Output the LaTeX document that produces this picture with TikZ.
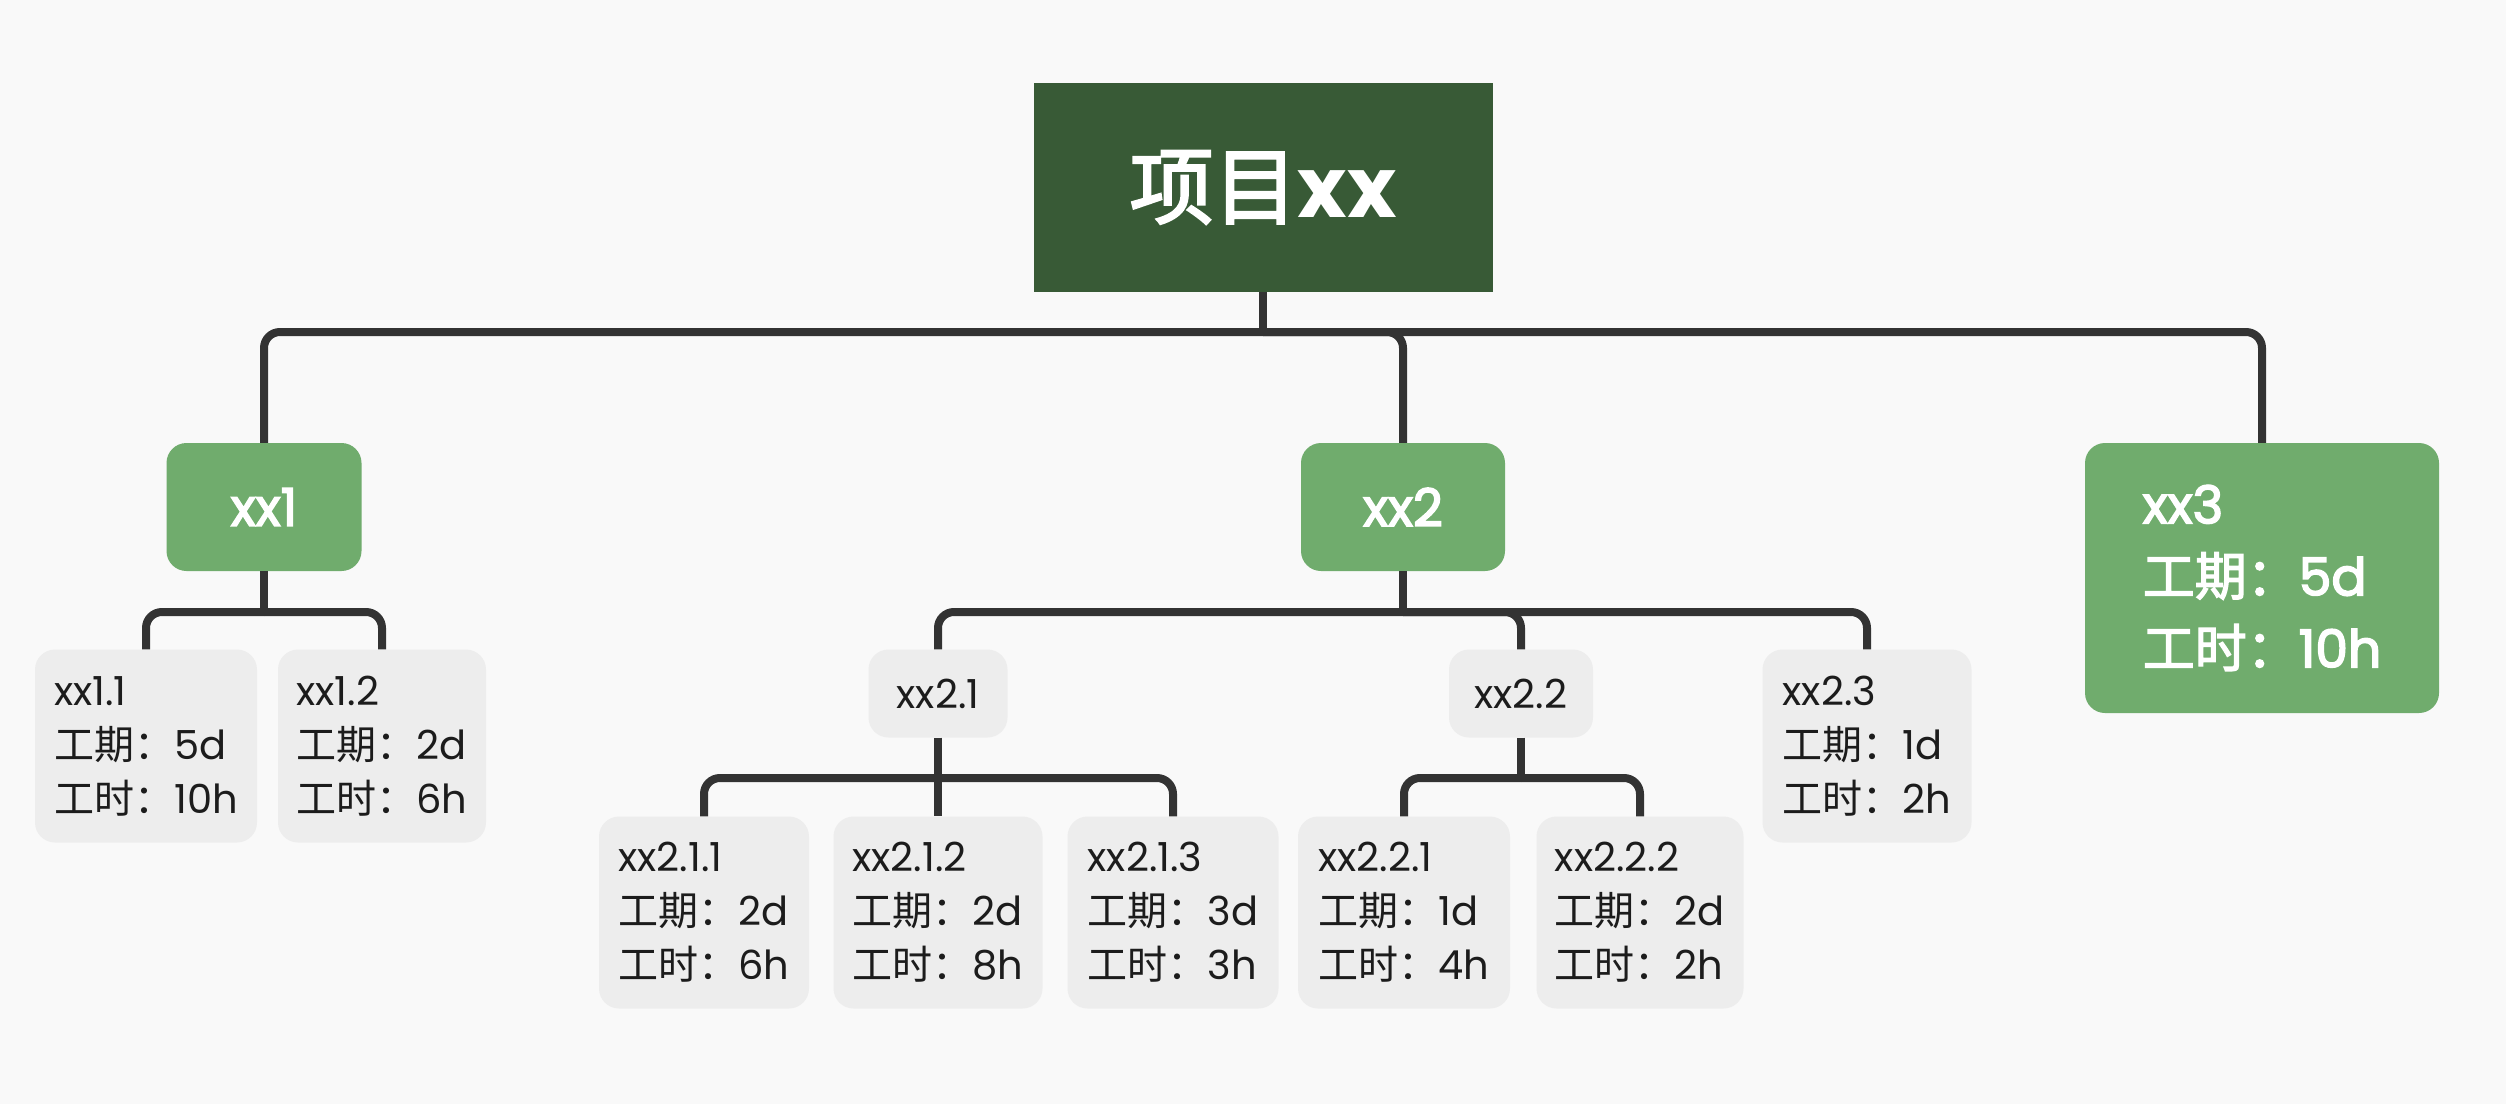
\documentclass[tikz,border=0pt]{standalone}
\usepackage{fontspec}
\setmainfont{Poppins}
\newfontfamily\cjk{Noto Sans CJK SC}
\newfontfamily\pmed{Poppins}[FakeBold=3]
\newfontfamily\cjkm{Noto Sans CJK SC}[FakeBold=2.5]
\newfontfamily\cjkr{Noto Sans CJK SC}[FakeBold=2.5]
\definecolor{bgc}{HTML}{F9F9F9}
\definecolor{rootc}{HTML}{385A36}
\definecolor{greenc}{HTML}{70AC6D}
\definecolor{grayc}{HTML}{EDEDED}
\definecolor{linec}{HTML}{333333}
\definecolor{textc}{HTML}{1C1C1C}
\begin{document}
\begin{tikzpicture}[x=1pt,y=-1pt,
  sz/.style 2 args={minimum width=#1pt, minimum height=#2pt},
  rootbox/.style={fill=rootc, inner sep=0pt, text=white, font=\fontsize{84}{100}\selectfont},
  greenbox/.style={fill=greenc, rounded corners=20pt, inner sep=0pt, text=white, align=left, font=\fontsize{52}{72}\selectfont\pmed},
  graybox/.style={fill=grayc, rounded corners=20pt, inner sep=0pt, text=textc, align=left, font=\fontsize{40}{54}\selectfont},
  conn/.style={draw=linec, line width=8pt, rounded corners=16pt}]
\fill[bgc] (0,0) rectangle (2506,1104);
\useasboundingbox (0,0) rectangle (2506,1104);
% nodes
\node[rootbox, sz={459}{209}] (root) at (1263,187.5) {{\cjkr 项目}{\bfseries xx}};
\node[greenbox, sz={195}{128}] (n1) at (264,507) {xx1};
\node[greenbox, sz={204}{128}] (n2) at (1403,507) {xx2};
\node[greenbox, sz={354}{270}] (n3) at (2262,578) {xx3\\{\cjkm 工期：}5d\\{\cjkm 工时：}10h};
\node[graybox, sz={222}{193}] (n11) at (146,746) {xx1.1\\{\cjk 工期：}5d\\{\cjk 工时：}10h};
\node[graybox, sz={208}{193}] (n12) at (382,746) {xx1.2\\{\cjk 工期：}2d\\{\cjk 工时：}6h};
\node[graybox, sz={139}{88}] (n21) at (938,693.5) {xx2.1};
\node[graybox, sz={144}{88}] (n22) at (1521,693.5) {xx2.2};
\node[graybox, sz={209}{193}] (n23) at (1867,746) {xx2.3\\{\cjk 工期：}1d\\{\cjk 工时：}2h};
\node[graybox, sz={210}{192}] (n211) at (704,912.5) {xx2.1.1\\{\cjk 工期：}2d\\{\cjk 工时：}6h};
\node[graybox, sz={209}{192}] (n212) at (938,912.5) {xx2.1.2\\{\cjk 工期：}2d\\{\cjk 工时：}8h};
\node[graybox, sz={211}{192}] (n213) at (1173,912.5) {xx2.1.3\\{\cjk 工期：}3d\\{\cjk 工时：}3h};
\node[graybox, sz={212}{192}] (n221) at (1404,912.5) {xx2.2.1\\{\cjk 工期：}1d\\{\cjk 工时：}4h};
\node[graybox, sz={207}{192}] (n222) at (1640,912.5) {xx2.2.2\\{\cjk 工期：}2d\\{\cjk 工时：}2h};
% bus points
\coordinate (b0) at (1263,332);
\coordinate (b1) at (264,612);
\coordinate (b2) at (1403,612);
\coordinate (b21) at (938,778);
\coordinate (b22) at (1521,778);
% connectors
\draw[conn] (root.south) -- (b0);
\draw[conn] (b0) -| (n1.north);
\draw[conn] (b0) -| (n2.north);
\draw[conn] (b0) -| (n3.north);
\draw[conn] (n1.south) -- (b1);
\draw[conn] (b1) -| (n11.north);
\draw[conn] (b1) -| (n12.north);
\draw[conn] (n2.south) -- (b2);
\draw[conn] (b2) -| (n21.north);
\draw[conn] (b2) -| (n22.north);
\draw[conn] (b2) -| (n23.north);
\draw[conn] (n21.south) -- (n212.north);
\draw[conn] (b21) -| (n211.north);
\draw[conn] (b21) -| (n213.north);
\draw[conn] (n22.south) -- (b22);
\draw[conn] (b22) -| (n221.north);
\draw[conn] (b22) -| (n222.north);
\end{tikzpicture}
\end{document}
